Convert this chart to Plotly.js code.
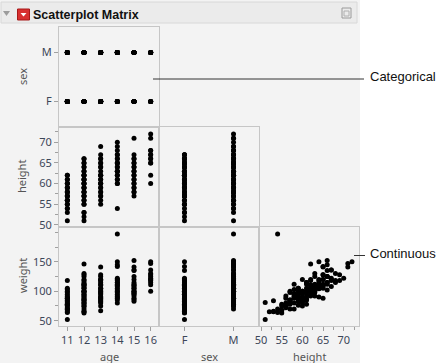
<!DOCTYPE html>
<html>
<head>
<meta charset="utf-8">
<script src="https://cdn.plot.ly/plotly-3.0.1.min.js"></script>
<style>html,body{margin:0;padding:0;background:#fff;}#chart{width:447px;height:363px;}</style>
</head>
<body>
<div id="chart"></div>
<script>
// ---- data (one record per student, grouped by age) ----
const ageGroups = [11, 12, 13, 14, 15, 16];
const height11 = [51,53,54,55,55,56,56,57,57,58,58,59,59,60,60,61,61,62,62,54,57,58,60,59,56];
const weight11 = [52,65,70,68,75,72,80,78,85,70,90,95,82,88,100,78,105,118,92,64,98,103,84,76,88];
const sex11 = ['F','F','M','F','M','F','M','F','M','F','M','F','M','F','M','F','M','F','M','F','F','M','F','F','M'];
const height12 = [51,52,53,53,55,55,56,56,57,57,58,58,59,59,60,60,61,61,62,62,63,63,64,64,65,65,66,66,57,59,60,58,61,62];
const weight12 = [81,65,84,66,63,78,74,92,85,100,80,112,95,105,90,120,100,115,108,146,98,130,110,118,105,128,125,112,70,88,75,94,86,100];
const sex12 = ['M','F','M','F','F','M','F','M','F','M','F','M','F','M','F','M','F','M','F','M','F','M','F','M','F','M','M','F','F','M','F','M','F','M'];
const height13 = [55,56,57,58,59,60,61,62,63,64,65,66,67,69,58,60,61,62,65,64,59,57,66,60,62];
const weight13 = [67,75,80,90,86,100,94,110,105,120,141,125,118,128,96,82,115,98,112,90,105,84,102,88,120];
const sex13 = ['F','M','F','M','F','M','F','M','F','M','M','M','F','M','F','F','M','F','F','F','M','M','F','M','F'];
const height14 = [54,60,61,62,63,64,65,66,67,68,69,70,64,65,66,61,62,63,60,67,65,63];
const weight14 = [197,80,90,95,100,105,110,115,120,115,118,122,150,142,145,85,102,92,98,108,88,112];
const sex14 = ['M','F','M','F','M','M','M','F','M','M','M','M','F','F','M','F','M','F','M','F','M','M'];
const height15 = [57,58,59,60,61,62,63,64,65,66,67,71,60,62,64,63,65,66,61,59,58];
const weight15 = [83,88,92,96,100,105,110,115,120,152,136,141,86,98,104,125,108,135,112,100,95];
const sex15 = ['F','M','F','M','F','M','F','M','F','M','M','M','F','F','F','M','M','F','M','M','F'];
const height16 = [60,62,65,66,67,68,71,72,66,65,67,68];
const weight16 = [100,111,120,125,136,130,147,150,115,128,122,118];
const sex16 = ['F','F','F','M','M','M','M','M','F','M','F','M'];
const sexCategories = ['F', 'M'];
const heightTicks = [50, 55, 60, 65, 70];
const weightTicks = [50, 100, 150];

// ---- assemble records ----
const groups = [
  [height11, weight11, sex11], [height12, weight12, sex12], [height13, weight13, sex13],
  [height14, weight14, sex14], [height15, weight15, sex15], [height16, weight16, sex16]
];
const age = [], sex = [], height = [], weight = [];
groups.forEach((g, i) => {
  g[0].forEach((h, j) => { age.push(ageGroups[i]); height.push(h); weight.push(g[1][j]); sex.push(g[2][j]); });
});

// ---- geometry helpers (pixels -> paper) ----
const W = 447, H = 363;
const X = px => px / W;
const Y = py => 1 - py / H;
const colX = [[59,159],[159,259],[259,359]].map(c => [X(c[0]), X(c[1])]);
const rowY = [[27,127],[127,227],[227,326]].map(r => [Y(r[1]), Y(r[0])]);

const border = '#c6c6c6';
const tickFont = {family: 'Noto Sans, DejaVu Sans, sans-serif', size: 11, color: '#3c4658'};
function ax(domain, anchor, extra) {
  return Object.assign({domain: domain, anchor: anchor, showline: true, mirror: true, linecolor: border,
    linewidth: 1, showgrid: false, zeroline: false, ticks: '', showticklabels: false, fixedrange: true}, extra || {});
}
const labeled = {ticks: 'outside', ticklen: 4, tickcolor: '#a0a0a0', tickwidth: 1, showticklabels: true, tickfont: tickFont};
const ageAx = {range: [10.5, 16.5], tickvals: ageGroups};
const sexAx = {type: 'category', categoryorder: 'array', categoryarray: sexCategories, range: [-0.52, 1.52]};
const htAx = {range: [49.5, 73.7], tickvals: heightTicks};
const wtAx = {range: [41, 209], tickvals: weightTicks};
const htMinor = {minor: {dtick: 2.5, tick0: 50, ticks: 'outside', ticklen: 3, tickcolor: '#a0a0a0'}};
const wtMinor = {minor: {dtick: 25, tick0: 50, ticks: 'outside', ticklen: 3, tickcolor: '#a0a0a0'}};

const marker = {color: '#000', size: 5};
function tr(x, y, n) {
  return {type: 'scatter', mode: 'markers', x: x, y: y, xaxis: 'x' + (n === 1 ? '' : n), yaxis: 'y' + (n === 1 ? '' : n),
    marker: marker, hoverinfo: 'skip', showlegend: false, cliponaxis: false};
}
const data = [
  tr(age, sex, 1),
  tr(age, height, 2),
  tr(age, weight, 3),
  tr(sex, height, 4),
  tr(sex, weight, 5),
  tr(height, weight, 6)
];

const axFont = {family: 'Noto Sans, DejaVu Sans, sans-serif', size: 11, color: '#555'};
function txt(text, x, y, opts) {
  return Object.assign({text: text, x: X(x), y: Y(y), xref: 'paper', yref: 'paper', showarrow: false,
    font: axFont, xanchor: 'center', yanchor: 'middle'}, opts || {});
}
function P(pts) { return 'M ' + pts.map(p => X(p[0]) + ' ' + Y(p[1])).join(' L ') + ' Z'; }

const layout = {
  width: W, height: H, margin: {l: 0, r: 0, t: 0, b: 0},
  paper_bgcolor: '#ffffff', plot_bgcolor: '#ffffff', showlegend: false,
  xaxis:  ax(colX[0], 'y',  ageAx),
  xaxis2: ax(colX[0], 'y2', ageAx),
  xaxis3: ax(colX[0], 'y3', Object.assign({}, ageAx, labeled)),
  xaxis4: ax(colX[1], 'y4', sexAx),
  xaxis5: ax(colX[1], 'y5', Object.assign({}, sexAx, labeled)),
  xaxis6: ax(colX[2], 'y6', Object.assign({}, htAx, labeled, htMinor)),
  yaxis:  ax(rowY[0], 'x',  Object.assign({}, sexAx, labeled)),
  yaxis2: ax(rowY[1], 'x2', Object.assign({}, htAx, labeled, htMinor)),
  yaxis3: ax(rowY[2], 'x3', Object.assign({}, wtAx, labeled, wtMinor)),
  yaxis4: ax(rowY[1], 'x4', htAx),
  yaxis5: ax(rowY[2], 'x5', wtAx),
  yaxis6: ax(rowY[2], 'x6', wtAx),
  shapes: [
    {type: 'rect', xref: 'paper', yref: 'paper', x0: 0, x1: X(360), y0: 0, y1: 1, fillcolor: '#f3f3f3', line: {width: 0}, layer: 'below'},
    {type: 'rect', xref: 'paper', yref: 'paper', x0: X(1), x1: X(357), y0: Y(23), y1: Y(2), fillcolor: '#ebebeb', line: {width: 1, color: '#d8d8d8'}, layer: 'below'},
    // disclosure triangle
    {type: 'path', xref: 'paper', yref: 'paper', path: P([[3,11],[10,11],[6.5,16]]), fillcolor: '#9c9c9c', line: {width: 0}},
    // red menu icon
    {type: 'rect', xref: 'paper', yref: 'paper', x0: X(17.5), x1: X(29.5), y0: Y(20), y1: Y(9), fillcolor: '#d83030', line: {width: 1, color: '#a81818'}},
    {type: 'path', xref: 'paper', yref: 'paper', path: P([[20.5,13],[26.5,13],[23.5,16.5]]), fillcolor: '#ffffff', line: {width: 0}},
    // right corner icon
    {type: 'rect', xref: 'paper', yref: 'paper', x0: X(342), x1: X(351), y0: Y(18), y1: Y(8), fillcolor: 'rgba(0,0,0,0)', line: {width: 1, color: '#9a9a9a'}},
    {type: 'rect', xref: 'paper', yref: 'paper', x0: X(344), x1: X(349), y0: Y(16), y1: Y(11), fillcolor: 'rgba(0,0,0,0)', line: {width: 1, color: '#b0b0b0'}},
    // callout lines
    {type: 'line', xref: 'paper', yref: 'paper', x0: X(153), x1: X(364), y0: Y(79), y1: Y(79), line: {width: 1, color: '#333'}},
    {type: 'line', xref: 'paper', yref: 'paper', x0: X(354), x1: X(365), y0: Y(255.5), y1: Y(255.5), line: {width: 1, color: '#333'}}
  ],
  annotations: [
    txt('<b>Scatterplot Matrix</b>', 31, 14.5, {xanchor: 'left', font: {family: 'Liberation Sans, Arial, sans-serif', size: 12.5, color: '#111'}}),
    txt('sex', 22, 77, {textangle: -90}),
    txt('height', 22, 177, {textangle: -90}),
    txt('weight', 22, 276, {textangle: -90}),
    txt('age', 109, 356),
    txt('sex', 209, 356),
    txt('height', 309, 356),
    txt('Categorical', 368, 76, {xanchor: 'left', font: {family: 'Liberation Sans, Arial, sans-serif', size: 13, color: '#111'}}),
    txt('Continuous', 368, 253, {xanchor: 'left', font: {family: 'Liberation Sans, Arial, sans-serif', size: 13, color: '#111'}})
  ]
};

Plotly.newPlot('chart', data, layout, {displayModeBar: false, staticPlot: true});
</script>
</body>
</html>
